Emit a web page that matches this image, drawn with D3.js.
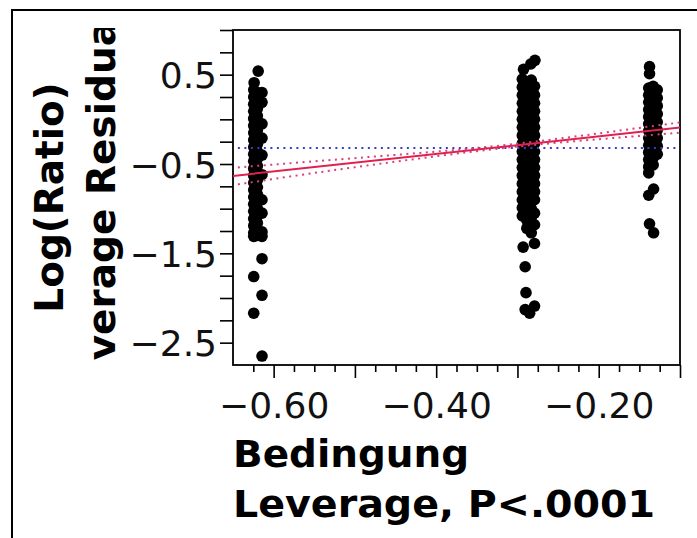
<!DOCTYPE html>
<html><head><meta charset="utf-8">
<script src="https://cdn.jsdelivr.net/npm/d3@7/dist/d3.min.js"></script>
<style>body{margin:0;background:#fff}svg{display:block}</style>
</head><body>
<svg id="chart" width="697" height="538"></svg>
<script>
// ---- data ----
const xTitleLines = ["Bedingung", "Leverage, P<.0001"];
const yTitleLines = ["Log(Ratio)", "Leverage Residuals"];
const xDomain = [-0.65, -0.10];
const yDomain = [-2.75, 1.0];
const xLabelTicks = [-0.6, -0.4, -0.2];
const xMajorTicks = [-0.6, -0.5, -0.4, -0.3, -0.2, -0.1];
const yLabelTicks = [0.5, -0.5, -1.5, -2.5];

// group 1 (Bedingung leverage ≈ -0.62)
const group1X = [-0.6190,-0.6240,
 -0.6245,-0.6245,-0.6245,-0.6245,-0.6245,-0.6245,-0.6245,-0.6245,-0.6245,-0.6245,-0.6245,-0.6245,-0.6245,-0.6245,-0.6245,-0.6245,-0.6245,-0.6245,-0.6245,-0.6245,-0.6245,-0.6245,
 -0.6200,-0.6200,-0.6200,-0.6200,-0.6200,-0.6200,-0.6200,-0.6200,-0.6200,-0.6200,-0.6200,-0.6200,-0.6200,-0.6200,-0.6200,-0.6200,-0.6200,-0.6200,-0.6200,-0.6200,-0.6200,
 -0.6143,-0.6143,-0.6143,-0.6143,-0.6143,-0.6143,-0.6143,-0.6143,-0.6143,-0.6143,
 -0.6143,-0.6245,-0.6143,-0.6245,-0.6143];
const group1Y = [0.54,0.41,
 0.33,0.25,0.17,0.09,0.01,-0.07,-0.15,-0.23,-0.31,-0.39,-0.47,-0.55,-0.63,-0.71,-0.79,-0.87,-0.95,-1.03,-1.11,-1.19,-1.27,-1.31,
 0.30,0.21,0.12,0.04,-0.04,-0.12,-0.20,-0.28,-0.36,-0.44,-0.52,-0.60,-0.68,-0.76,-0.84,-0.92,-1.00,-1.08,-1.16,-1.24,-1.30,
 0.30,0.19,-0.05,-0.21,-0.40,-0.62,-0.90,-1.05,-1.26,-1.31,
 -1.56,-1.76,-1.97,-2.17,-2.65];

// group 2 (≈ -0.287)
const group2X = [-0.2785,-0.2835,-0.2925,
 -0.2940,-0.2940,-0.2940,-0.2940,-0.2940,-0.2940,-0.2940,-0.2940,-0.2940,-0.2940,-0.2940,-0.2940,-0.2940,-0.2940,-0.2940,-0.2940,-0.2940,-0.2940,
 -0.2885,-0.2885,-0.2885,-0.2885,-0.2885,-0.2885,-0.2885,-0.2885,-0.2885,-0.2885,-0.2885,-0.2885,-0.2885,-0.2885,-0.2885,-0.2885,-0.2885,-0.2885,-0.2885,
 -0.2830,-0.2830,-0.2830,-0.2830,-0.2830,-0.2830,-0.2830,-0.2830,-0.2830,-0.2830,-0.2830,-0.2830,-0.2830,-0.2830,-0.2830,-0.2830,-0.2830,-0.2830,-0.2830,-0.2830,
 -0.2790,-0.2790,-0.2790,-0.2790,-0.2790,-0.2790,-0.2790,-0.2790,-0.2790,-0.2790,-0.2790,-0.2790,-0.2790,-0.2790,-0.2790,-0.2790,-0.2790,
 -0.2790,-0.2930,-0.2905,-0.2895,-0.2790,-0.2905,-0.2850];
const group2Y = [0.66,0.62,0.56,
 0.45,0.36,0.27,0.18,0.09,0.00,-0.09,-0.18,-0.27,-0.36,-0.45,-0.54,-0.63,-0.72,-0.81,-0.90,-0.99,-1.08,
 0.40,0.31,0.22,0.13,0.04,-0.05,-0.14,-0.23,-0.32,-0.41,-0.50,-0.59,-0.68,-0.77,-0.86,-0.95,-1.04,-1.13,-1.22,
 0.44,0.35,0.26,0.17,0.08,-0.01,-0.10,-0.19,-0.28,-0.37,-0.46,-0.55,-0.64,-0.73,-0.82,-0.91,-1.00,-1.10,-1.20,-1.27,
 0.37,0.27,0.18,0.09,0.00,-0.09,-0.18,-0.27,-0.36,-0.45,-0.54,-0.63,-0.72,-0.81,-0.90,-1.05,-1.18,
 -1.39,-1.43,-1.65,-1.94,-2.09,-2.13,-2.17];

// group 3 (≈ -0.133)
const group3X = [-0.1375,-0.1375,
 -0.1385,-0.1385,-0.1385,-0.1385,-0.1385,-0.1385,-0.1385,-0.1385,-0.1385,-0.1385,-0.1385,-0.1385,-0.1385,
 -0.1330,-0.1330,-0.1330,-0.1330,-0.1330,-0.1330,-0.1330,-0.1330,-0.1330,-0.1330,-0.1330,-0.1330,
 -0.1280,-0.1280,-0.1280,-0.1280,-0.1280,-0.1280,-0.1280,-0.1280,-0.1280,
 -0.1325,-0.1385,-0.1375,-0.1325];
const group3Y = [0.59,0.51,
 0.35,0.27,0.19,0.11,0.03,-0.05,-0.13,-0.21,-0.29,-0.37,-0.45,-0.53,-0.60,
 0.37,0.29,0.21,0.13,0.05,-0.03,-0.11,-0.19,-0.27,-0.35,-0.43,-0.51,
 0.33,0.24,0.15,0.06,-0.03,-0.12,-0.21,-0.30,-0.39,
 -0.78,-0.85,-1.17,-1.27];

// fit line, mean line, confidence curves
const fitX = [-0.65, -0.10];
const fitY = [-0.633, -0.092];
const meanX = [-0.644, -0.103];
const meanY = [-0.32, -0.32];
const bandX = [-0.644, -0.55, -0.45, -0.35, -0.25, -0.15, -0.10];
const bandUpper = [-0.538, -0.470, -0.398, -0.320, -0.217, -0.096, -0.035];
const bandLower = [-0.728, -0.600, -0.474, -0.356, -0.261, -0.186, -0.149];

// ---- drawing ----
const svg = d3.select("#chart");
svg.append("rect").attr("width", 697).attr("height", 538).attr("fill", "#fff");

const L = 233, R = 680, T = 30, B = 365;
const x = d3.scaleLinear().domain(xDomain).range([L, R]);
const y = d3.scaleLinear().domain(yDomain).range([B, T]);

// outer frame
svg.append("path").attr("d", "M12,540 L12,10 L700,10")
  .attr("fill", "none").attr("stroke", "#000").attr("stroke-width", 2);

// y ticks
const yTicks = d3.range(-10, 5).map(i => i * 0.25);
const yAxis = d3.axisLeft(y).tickValues(yTicks).tickSize(13).tickPadding(3)
  .tickFormat(d => yLabelTicks.some(v => Math.abs(v - d) < 1e-6) ? d3.format(".1f")(d) : "");
const gy = svg.append("g").attr("transform", `translate(${L},0)`).call(yAxis);
gy.select(".domain").remove();
gy.selectAll(".tick line").attr("stroke", "#000").attr("stroke-width", 1.6);
gy.selectAll(".tick text").attr("font-family", "DejaVu Sans").attr("font-size", 36)
  .attr("fill", "#111").attr("dy", null).attr("y", 13).attr("x", -16);

// x ticks: minor
const xMinor = d3.range(-25, -3).map(i => i * 0.025)
  .filter(d => !xMajorTicks.some(v => Math.abs(v - d) < 1e-6));
const gxm = svg.append("g").attr("transform", `translate(0,${B})`)
  .call(d3.axisBottom(x).tickValues(xMinor).tickSize(7).tickFormat(""));
gxm.select(".domain").remove();
gxm.selectAll(".tick line").attr("stroke", "#000").attr("stroke-width", 1.6);
// x ticks: major
const gx = svg.append("g").attr("transform", `translate(0,${B})`)
  .call(d3.axisBottom(x).tickValues(xMajorTicks).tickSize(13)
    .tickFormat(d => xLabelTicks.some(v => Math.abs(v - d) < 1e-6) ? d3.format(".2f")(d) : ""));
gx.select(".domain").remove();
gx.selectAll(".tick line").attr("stroke", "#000").attr("stroke-width", 1.6);
gx.selectAll(".tick text").attr("font-family", "DejaVu Sans").attr("font-size", 36)
  .attr("fill", "#111").attr("dy", null).attr("y", 53);

// plot frame
svg.append("rect").attr("x", L).attr("y", T).attr("width", R - L).attr("height", B - T)
  .attr("fill", "none").attr("stroke", "#000").attr("stroke-width", 1.8);

// clip for plot
svg.append("clipPath").attr("id", "plotclip").append("rect")
  .attr("x", L).attr("y", T).attr("width", R - L).attr("height", B - T);
const plot = svg.append("g").attr("clip-path", "url(#plotclip)");

// points
const pts = [];
[[group1X, group1Y], [group2X, group2Y], [group3X, group3Y]].forEach(([gx_, gy_]) => {
  gx_.forEach((v, i) => pts.push({x: v, y: gy_[i]}));
});
plot.selectAll("circle.pt").data(pts).join("circle").attr("class", "pt")
  .attr("cx", d => x(d.x)).attr("cy", d => y(d.y)).attr("r", 5.8).attr("fill", "#000");

// mean line (blue dotted)
const line = d3.line().x(d => x(d[0])).y(d => y(d[1]));
plot.append("path").attr("d", line(meanX.map((v, i) => [v, meanY[i]])))
  .attr("fill", "none").attr("stroke", "#3a3ec8").attr("stroke-width", 2).attr("stroke-dasharray", "2,4.5");

// confidence curves
const curve = d3.line().x(d => x(d[0])).y(d => y(d[1])).curve(d3.curveNatural);
[bandUpper, bandLower].forEach(arr => {
  plot.append("path").attr("d", curve(bandX.map((v, i) => [v, arr[i]])))
    .attr("fill", "none").attr("stroke", "#d8407a").attr("stroke-width", 2).attr("stroke-dasharray", "2,4.5");
});
// fit line
plot.append("path").attr("d", line(fitX.map((v, i) => [v, fitY[i]])))
  .attr("fill", "none").attr("stroke", "#e0204e").attr("stroke-width", 2);

// y title (clipped like the reference)
svg.append("clipPath").attr("id", "ytclip").append("rect")
  .attr("x", 20).attr("y", 28).attr("width", 110).attr("height", 333);
const yt = svg.append("g").attr("clip-path", "url(#ytclip)");
const cy = (T + B) / 2;
[63, 115].forEach((bx, i) => {
  yt.append("text").attr("transform", `translate(${bx},${cy}) rotate(-90)`)
    .attr("text-anchor", "middle").attr("font-family", "DejaVu Sans").attr("font-weight", "bold")
    .attr("font-size", 39).attr("fill", "#000").text(yTitleLines[i]);
});

// x title
[[466.5, 236], [516.5, 422]].forEach(([by, len], i) => {
  svg.append("text").attr("x", 233).attr("y", by)
    .attr("font-family", "DejaVu Sans").attr("font-weight", "bold").attr("font-size", 37)
    .attr("textLength", len).attr("lengthAdjust", "spacingAndGlyphs")
    .attr("fill", "#000").text(xTitleLines[i]);
});
</script>
</body></html>
